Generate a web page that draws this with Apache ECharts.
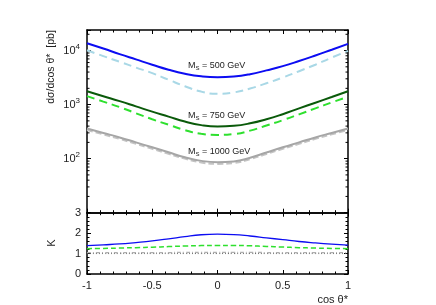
<!DOCTYPE html>
<html>
<head>
<meta charset="utf-8">
<script src="https://cdn.jsdelivr.net/npm/echarts@6/dist/echarts.min.js"></script>
<style>html,body{margin:0;padding:0;background:#fff;}#c{width:436px;height:305px;}</style>
</head>
<body>
<div id="c"></div>
<script>
// ---- data ----
const cosTheta = [-1, -0.875, -0.75, -0.625, -0.5, -0.375, -0.25, -0.125, 0, 0.125, 0.25, 0.375, 0.5, 0.625, 0.75, 0.875, 1];
// dσ/dcosθ* [pb], solid = NLO, dashed = LO
const nlo500  = [13680, 10890, 8590, 6855, 5470, 4426, 3733, 3334, 3199, 3300, 3650, 4300, 5150, 6400, 8091, 10350, 13270];
const lo500   = [10100, 7900, 6200, 4850, 3820, 2880, 2190, 1740, 1585, 1680, 1980, 2480, 3170, 4150, 5470, 7400, 9800];
const nlo750  = [1770, 1432, 1159, 927, 741, 600, 485, 417, 393, 405, 450, 535, 665, 851, 1084, 1380, 1770];
const lo750   = [1432, 1135, 899, 692, 535, 424, 337, 288, 275, 285, 330, 410, 515, 661, 851, 1096, 1396];
const nlo1000 = [361, 299, 247, 200, 162, 131, 106, 91, 86, 89, 104, 130, 162, 200, 247, 299, 361];
const lo1000  = [340, 281, 232, 188, 152, 123, 100, 85, 80, 83, 98, 122, 152, 188, 232, 281, 340];
// K factors
const k500  = [1.39, 1.43, 1.47, 1.54, 1.62, 1.72, 1.83, 1.92, 1.95, 1.93, 1.86, 1.77, 1.68, 1.59, 1.52, 1.46, 1.41];
const k750  = [1.24, 1.25, 1.27, 1.29, 1.31, 1.34, 1.37, 1.39, 1.40, 1.40, 1.38, 1.35, 1.32, 1.29, 1.27, 1.25, 1.24];
const k1000 = [1.05, 1.05, 1.05, 1.05, 1.05, 1.05, 1.06, 1.06, 1.06, 1.06, 1.06, 1.05, 1.05, 1.05, 1.05, 1.05, 1.05];
const kUnity = [1, 1, 1, 1, 1, 1, 1, 1, 1, 1, 1, 1, 1, 1, 1, 1, 1];
// axis settings
const xMin = -1, xMax = 1, xStep = 0.5;
const yLogMin = 10, yLogMax = 24000;
const kMin = 0, kMax = 3, kStep = 1;
const massLabels = ['500', '750', '1000'];

// minor ticks of the log axis (2..9 x decade)
const logMinor = [];
for (let d = 10; d < yLogMax; d *= 10) {
  for (let m = 2; m <= 9; m++) { if (m * d < yLogMax) logMinor.push(m * d); }
}

const pair = (ys) => cosTheta.map((x, i) => [x, ys[i]]);
const FONT = 'Liberation Sans, Arial, sans-serif';
const TXT = '#222';

function xAx(gi, pos, showLabel) {
  return {
    type: 'value', gridIndex: gi, position: pos, min: xMin, max: xMax, interval: xStep,
    axisLine: { show: true, onZero: false, lineStyle: { color: '#000', width: 1.5 } },
    axisTick: { show: true, inside: true, length: 4, lineStyle: { color: '#000', width: 1 } },
    minorTick: { show: true, splitNumber: 5, length: 2.5, lineStyle: { color: '#000', width: 1 } },
    splitLine: { show: false },
    axisLabel: {
      show: showLabel, margin: 6, color: TXT, fontSize: 11, fontFamily: FONT,
      formatter: v => (Math.abs(v) < 1e-9 ? '0' : String(+v.toFixed(2)))
    }
  };
}
function yLog(gi, pos, showLabel) {
  return {
    type: 'log', logBase: 10, gridIndex: gi, position: pos, min: yLogMin, max: yLogMax,
    axisLine: { show: true, onZero: false, lineStyle: { color: '#000', width: 1.5 } },
    axisTick: { show: true, inside: true, length: 4, lineStyle: { color: '#000', width: 1 } },
    minorTick: { show: false },
    splitLine: { show: false },
    axisLabel: {
      show: showLabel, margin: 7, color: TXT, fontSize: 11, fontFamily: FONT,
      formatter: v => {
        const e = Math.log10(v);
        if (Math.abs(e - Math.round(e)) > 1e-6 || v < 50) return '';
        return '10{sup|' + Math.round(e) + '}';
      },
      rich: { sup: { fontSize: 8, verticalAlign: 'top', padding: [0, 0, 7, 0], color: TXT, fontFamily: FONT } }
    }
  };
}
function yLin(gi, pos, showLabel) {
  return {
    type: 'value', gridIndex: gi, position: pos, min: kMin, max: kMax, interval: kStep,
    axisLine: { show: true, onZero: false, lineStyle: { color: '#000', width: 1.5 } },
    axisTick: { show: true, inside: true, length: 4, lineStyle: { color: '#000', width: 1 } },
    minorTick: { show: true, splitNumber: 5, length: 2.5, lineStyle: { color: '#000', width: 1 } },
    splitLine: { show: false },
    axisLabel: { show: showLabel, margin: 6, color: TXT, fontSize: 11, fontFamily: FONT }
  };
}
function line(data, xi, yi, color, width, type, z) {
  return {
    type: 'line', xAxisIndex: xi, yAxisIndex: yi, data: data, smooth: 0.5,
    showSymbol: false, symbol: 'none', silent: true, animation: false, z: z || 2,
    lineStyle: { color: color, width: width, type: type }
  };
}

const chart = echarts.init(document.getElementById('c'), null, { renderer: 'canvas' });
const subRich = { s: { fontSize: 6, padding: [5, 0, 0, 0], fill: TXT } };
const option = {
  animation: false,
  backgroundColor: '#fff',
  grid: [
    { left: 87, top: 30, width: 261, height: 182.7 },
    { left: 87, top: 212.7, width: 261, height: 61.3 }
  ],
  xAxis: [xAx(0, 'bottom', false), xAx(0, 'top', false), xAx(1, 'bottom', true), xAx(1, 'top', false)],
  yAxis: [yLog(0, 'left', true), yLog(0, 'right', false), yLin(1, 'left', true), yLin(1, 'right', false)],
  series: [
    line(pair(lo500), 0, 0, '#a9d8e6', 2, [8, 5], 2),
    line(pair(nlo500), 0, 0, '#0c0cf2', 2, 'solid', 3),
    line(pair(lo750), 0, 0, '#2ee02e', 2, [8, 5], 2),
    line(pair(nlo750), 0, 0, '#0a5a0a', 2, 'solid', 3),
    line(pair(lo1000), 0, 0, '#c4c4c4', 2, [6, 3], 2),
    line(pair(nlo1000), 0, 0, '#a6a6a6', 2, 'solid', 3),
    line(pair(kUnity), 2, 2, '#666', 1, [1, 2], 2),
    line(pair(k1000), 2, 2, '#b0b0b0', 1.3, [4, 2, 1, 2], 2),
    line(pair(k750), 2, 2, '#2ee02e', 1.5, [5, 3], 3),
    line(pair(k500), 2, 2, '#0c0cf2', 1.3, 'solid', 4),
    {
      type: 'custom', xAxisIndex: 0, yAxisIndex: 0, silent: true, z: 5, clip: false,
      data: logMinor.map(v => [xMin, v]),
      renderItem: function (params, api) {
        const v = api.value(1);
        const pl = api.coord([xMin, v]);
        const pr = api.coord([xMax, v]);
        const st = { stroke: '#000', lineWidth: 1 };
        return { type: 'group', children: [
          { type: 'line', shape: { x1: pl[0], y1: pl[1], x2: pl[0] + 2.5, y2: pl[1] }, style: st },
          { type: 'line', shape: { x1: pr[0], y1: pr[1], x2: pr[0] - 2.5, y2: pr[1] }, style: st }
        ] };
      }
    }
  ],
  graphic: [
    { type: 'text', x: 51, y: 67, rotation: Math.PI / 2, style: { text: 'dσ/dcos θ*  [pb]', fill: TXT, font: '10.5px ' + FONT, align: 'center', verticalAlign: 'middle' } },
    { type: 'text', x: 52, y: 243, rotation: Math.PI / 2, style: { text: 'K', fill: TXT, font: '11px ' + FONT, align: 'center', verticalAlign: 'middle' } },
    { type: 'text', x: 348, y: 300, style: { text: 'cos θ*', fill: TXT, font: '11px ' + FONT, align: 'right', verticalAlign: 'middle' } },
    { type: 'text', x: 188, y: 66, style: { text: 'M{s|S} = ' + massLabels[0] + ' GeV', fill: TXT, font: '9px ' + FONT, verticalAlign: 'middle', rich: subRich } },
    { type: 'text', x: 188, y: 115.5, style: { text: 'M{s|S} = ' + massLabels[1] + ' GeV', fill: TXT, font: '9px ' + FONT, verticalAlign: 'middle', rich: subRich } },
    { type: 'text', x: 188, y: 151.5, style: { text: 'M{s|S} = ' + massLabels[2] + ' GeV', fill: TXT, font: '9px ' + FONT, verticalAlign: 'middle', rich: subRich } }
  ]
};
chart.setOption(option);
</script>
</body>
</html>
